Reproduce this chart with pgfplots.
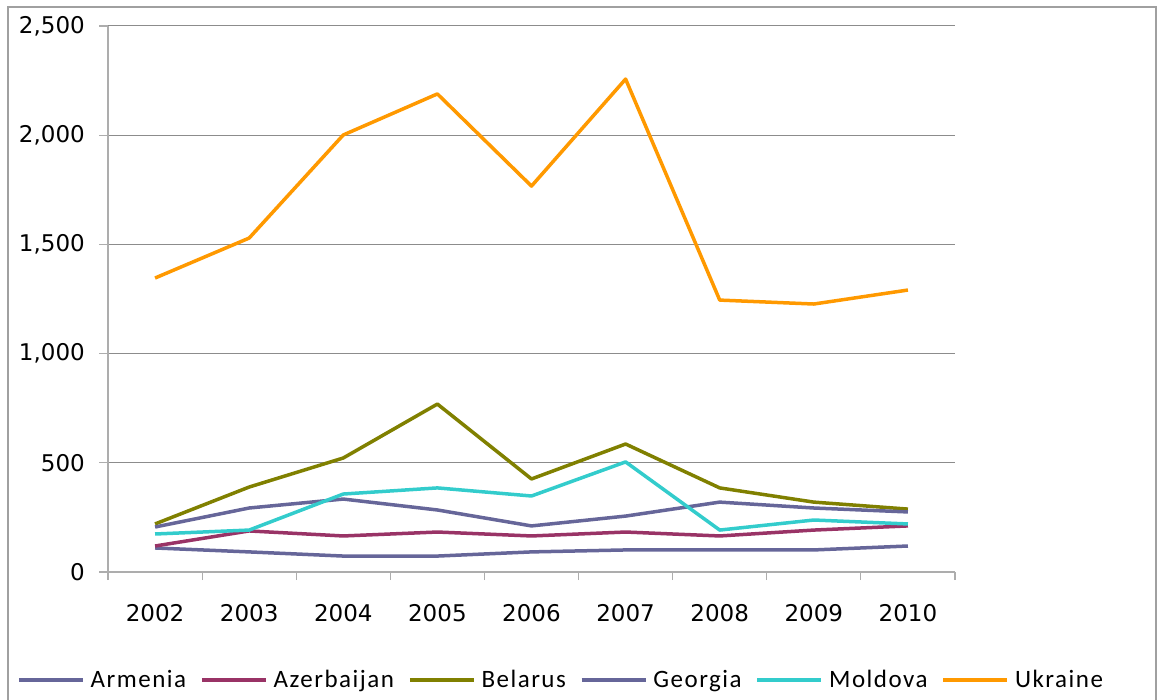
\documentclass[border=0pt]{standalone}
\usepackage{pgfplots}
\pgfplotsset{compat=1.18}
\usepackage{fontspec}
\setmainfont{DejaVu Sans}
\newfontfamily\legfont[LetterSpace=6]{Carlito}
\definecolor{cArm}{HTML}{666699}
\definecolor{cAze}{HTML}{993366}
\definecolor{cBel}{HTML}{808000}
\definecolor{cGeo}{HTML}{666699}
\definecolor{cMol}{HTML}{33CCCC}
\definecolor{cUkr}{HTML}{FF9900}
\definecolor{gridc}{HTML}{8C8C8C}
\definecolor{axisc}{HTML}{ADADAD}
\definecolor{borderc}{HTML}{A0A0A0}
\begin{document}
\begin{tikzpicture}
\clip (0bp,0bp) rectangle (1159bp,700bp);
\draw[borderc, line width=2bp] (8bp,693bp) rectangle (1156bp,-30bp);
\begin{axis}[
  at={(108bp,128bp)}, anchor=south west,
  scale only axis, width=847bp, height=546bp,
  xmin=-0.5, xmax=8.5, ymin=0, ymax=2500,
  axis x line*=bottom, axis y line*=left,
  axis line style={axisc, line width=1.2bp, -},
  xtick={0,...,8},
  xticklabels={2002,2003,2004,2005,2006,2007,2008,2009,2010},
  minor xtick={-0.5,0.5,...,8.5},
  major x tick style={draw=none},
  minor x tick style={axisc, line width=1.2bp},
  ytick={0,500,1000,1500,2000,2500},
  y tick style={axisc, line width=1.2bp},
  tick align=outside,
  major tick length=9bp, minor tick length=8bp,
  ymajorgrids, grid style={gridc, line width=1bp},
  scaled y ticks=false,
  /pgf/number format/.cd, 1000 sep={,}, assume math mode=true, /pgfplots/.cd,
  tick label style={font=\fontsize{23bp}{27bp}\selectfont, inner sep=0pt},
  xticklabel style={anchor=north, yshift=-23bp},
  yticklabel style={anchor=east, xshift=-14bp},
  legend columns=6,
  legend image code/.code={\draw[#1] (0bp,0bp) -- (64bp,0bp);},
  legend style={at={(-0.1074,-0.1978)}, anchor=west, draw=none, fill=none,
    inner sep=0pt, font=\legfont\fontsize{25bp}{29bp}\selectfont,
    nodes={inner sep=0pt},
    /tikz/every odd column/.append style={column sep=6bp},
    /tikz/every even column/.append style={column sep=14bp}},
  legend cell align=left,
  every axis plot/.append style={line width=3.5bp, no markers, line join=round},
]
\addplot[cArm] coordinates {(0,110) (1,92) (2,73) (3,73) (4,92) (5,101) (6,101) (7,101) (8,119)};
\addplot[cAze] coordinates {(0,119) (1,188) (2,165) (3,183) (4,165) (5,183) (6,165) (7,192) (8,211)};
\addplot[cBel] coordinates {(0,220) (1,389) (2,522) (3,769) (4,426) (5,586) (6,385) (7,320) (8,288)};
\addplot[cGeo] coordinates {(0,206) (1,293) (2,334) (3,284) (4,211) (5,256) (6,320) (7,293) (8,275)};
\addplot[cMol] coordinates {(0,174) (1,192) (2,357) (3,385) (4,348) (5,504) (6,192) (7,238) (8,220)};
\addplot[cUkr] coordinates {(0,1346) (1,1529) (2,2001) (3,2189) (4,1767) (5,2257) (6,1245) (7,1227) (8,1291)};
\legend{Armenia,Azerbaijan,Belarus,Georgia,Moldova,Ukraine}
\end{axis}
\end{tikzpicture}
\end{document}
